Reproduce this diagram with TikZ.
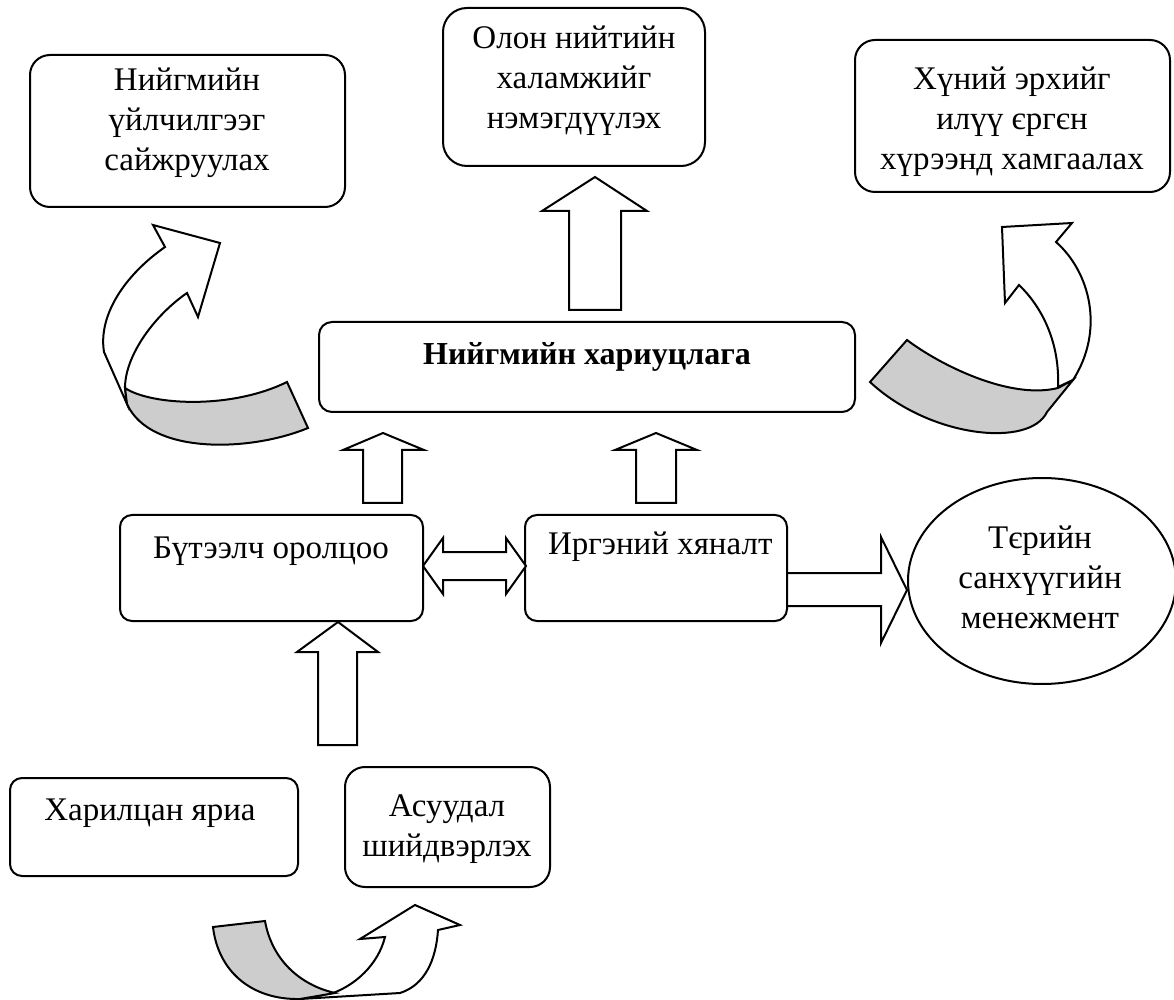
\documentclass[tikz,border=0pt]{standalone}
\usepackage{fontspec}
\setmainfont{Liberation Serif}
\usetikzlibrary{shapes.geometric}

\begin{document}
\begin{tikzpicture}[x=0.5pt, y=-0.5pt,
  % ---- colours -----------------------------------------------------------
  /utils/exec={%
    \definecolor{figink}  {RGB}{  0,  0,  0}%
    \definecolor{figribbon}{RGB}{205,205,205}%
  },
  % ---- one style per box ---------------------------------------------------
  box/.style={draw=figink, line width=1pt, rounded corners=#1, fill=white},
  box/.default=10pt,
  txt/.style={font=\fontsize{16.5}{20}\selectfont, align=center, text=figink},
  blkarrow/.style={draw=figink, line width=1pt, fill=white, line join=miter},
  ribbon/.style={draw=figink, line width=1pt, fill=figribbon},
]
\useasboundingbox (0,0) rectangle (1174,1000);

% =====================================================================
%  TOP ROW : goals
% =====================================================================
\node[box, minimum width=157.5pt, minimum height=76pt] (service) at (187.5,131) {};
\node[txt] at (187,123) {Нийгмийн\\үйлчилгээг\\сайжруулах};

\node[box=12pt, minimum width=131pt, minimum height=79pt] (welfare) at (574,87) {};
\node[txt] at (574,81) {Олон нийтийн\\халамжийг\\нэмэгдүүлэх};

\node[box, minimum width=157.5pt, minimum height=76pt] (rights) at (1012.5,116) {};
\node[txt] at (1012,122) {Хүний эрхийг\\илүү єргєн\\хүрээнд хамгаалах};

% =====================================================================
%  CENTRE : social responsibility
% =====================================================================
\node[box=6.5pt, minimum width=268pt, minimum height=45pt] (resp) at (587,367) {};
\node[txt, font=\fontsize{16}{20}\selectfont\bfseries] at (587,357) {Нийгмийн хариуцлага};

% =====================================================================
%  MIDDLE ROW : participation, control, finance
% =====================================================================
\node[box=6pt, minimum width=151.5pt, minimum height=53pt] (build) at (271.5,568) {};
\node[txt] at (271,551) {Бүтээлч оролцоо};

\node[box=6pt, minimum width=131pt, minimum height=53pt] (civic) at (656,568) {};
\node[txt, anchor=west] at (541,547) {Иргэний хяналт};

\node[ellipse, draw=figink, line width=1pt, minimum width=134pt, minimum height=103pt] (finance) at (1042,581) {};
\node[txt] at (1040,577) {Тєрийн\\санхүүгийн\\менежмент};

% =====================================================================
%  BOTTOM ROW : dialogue and problem solving
% =====================================================================
\node[box=6pt, minimum width=144pt, minimum height=49pt] (dialog) at (154,827) {};
\node[txt] at (150,813) {Харилцан яриа};

\node[box, minimum width=102.5pt, minimum height=60pt] (solve) at (447.5,827) {};
\node[txt] at (447,829) {Асуудал\\шийдвэрлэх};

% =====================================================================
%  BLOCK ARROWS
% =====================================================================
\draw[blkarrow] (569,310) -- (569,211) -- (542,211) -- (595,177) -- (647,211)
                -- (621,211) -- (621,310) -- cycle;
\draw[blkarrow] (363,503) -- (363,450) -- (343,450) -- (383,433) -- (424,450)
                -- (402,450) -- (402,503) -- cycle;
\draw[blkarrow] (636,503) -- (636,450) -- (615,450) -- (656,433) -- (697,450)
                -- (676,450) -- (676,503) -- cycle;
\draw[blkarrow] (318,745) -- (318,652) -- (297,652) -- (338,622) -- (378,652)
                -- (357,652) -- (357,745) -- cycle;
% both ways between participation and control
\draw[blkarrow] (423,566) -- (443,538) -- (443,552) -- (506,552) -- (506,538)
                -- (526,566) -- (506,594) -- (506,580) -- (443,580) -- (443,594) -- cycle;
% control to finance
\draw[blkarrow] (787,573) -- (881,573) -- (881,537) -- (907,590) -- (881,643)
                -- (881,606) -- (787,606) -- cycle;

% =====================================================================
%  CURVED RIBBON ARROWS
% =====================================================================
% left, up to the services box
\draw[blkarrow] (125,388) .. controls (125,355) and (155,315) .. (187,293) -- (198,317)
      -- (220,243) -- (153,225) -- (165,247)
      .. controls (125,275) and (98,315) .. (104,352) -- (127,404) -- cycle;
\draw[ribbon] (125,388) .. controls (150,405) and (230,410) .. (287,382) -- (308,428)
      .. controls (250,452) and (150,455) .. (127,404) -- cycle;

% right, up to the rights box
\draw[blkarrow] (1058,387) .. controls (1060,340) and (1040,305) .. (1019,285) -- (1005,303)
      -- (1002,227) -- (1072,223) -- (1056,242)
      .. controls (1090,272) and (1105,330) .. (1073,380) -- cycle;
\draw[ribbon] (907,340) .. controls (940,365) and (1010,400) .. (1058,388) -- (1073,380)
      -- (1047,412) .. controls (1030,448) and (930,438) .. (870,382) -- cycle;

% bottom, from dialogue over to problem solving
\draw[blkarrow] (333,993) .. controls (355,985) and (378,965) .. (385,937) -- (360,939)
      -- (415,905) -- (460,925) -- (438,930)
      .. controls (436,960) and (425,985) .. (400,993) -- (300,999) -- cycle;
\draw[ribbon] (213,927) -- (265,921) .. controls (272,960) and (300,985) .. (335,993)
      -- (300,999) .. controls (250,1000) and (218,970) .. (213,927) -- cycle;

\end{tikzpicture}
\end{document}
